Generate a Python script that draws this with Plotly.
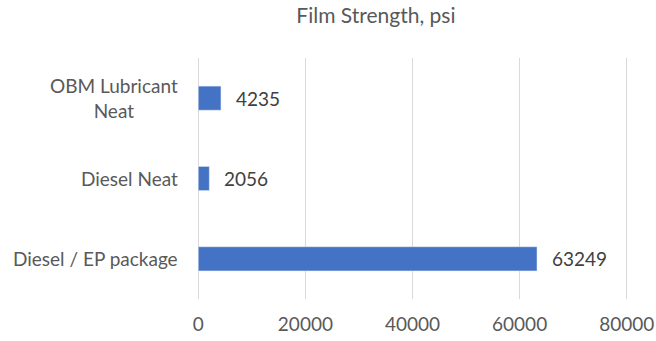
import plotly.graph_objects as go

categories = ["Diesel / EP package", "Diesel Neat", "OBM Lubricant Neat"]
category_labels = ["Diesel / EP package", "Diesel Neat", "OBM Lubricant<br>Neat"]
values = [63249, 2056, 4235]
x_ticks = [0, 20000, 40000, 60000, 80000]

font_family = "Lato, Open Sans, sans-serif"
grey = "#595959"

fig = go.Figure()
fig.add_trace(go.Bar(
    x=values, y=categories, orientation="h",
    marker=dict(color="#4472C4"),
    width=0.3,
    hoverinfo="skip",
))

for c, v in zip(categories, values):
    fig.add_annotation(x=v, y=c, text=str(v), showarrow=False,
                       xanchor="left", xshift=13,
                       font=dict(size=19, color="#404040", family=font_family))

for c, lab in zip(categories, category_labels):
    fig.add_annotation(x=0, xref="x", y=c, yref="y", text=lab, showarrow=False,
                       xanchor="right", align="center", xshift=-18,
                       font=dict(size=19, color=grey, family=font_family))

fig.update_layout(
    width=656, height=341,
    margin=dict(l=194, r=25, t=58, b=42, autoexpand=False),
    paper_bgcolor="white", plot_bgcolor="white",
    showlegend=False,
    title=dict(text="Film Strength, psi", x=0.573, xanchor="center", y=0.955, yanchor="middle",
               font=dict(size=21, color=grey, family=font_family)),
    font=dict(family=font_family, color=grey, size=19),
    xaxis=dict(range=[-800, 80800], tickvals=x_ticks, ticktext=[str(t) for t in x_ticks],
               showgrid=True, gridcolor="#d9d9d9", gridwidth=1, zeroline=False,
               showline=False, ticks="", tickfont=dict(size=19, color=grey),
               ticklabelstandoff=12, fixedrange=True, automargin=False),
    yaxis=dict(categoryorder="array", categoryarray=categories, showgrid=False,
               zeroline=False, showline=False, ticks="", showticklabels=False,
               range=[-0.5, 2.5], automargin=False),
)

fig.write_html("out.html")
